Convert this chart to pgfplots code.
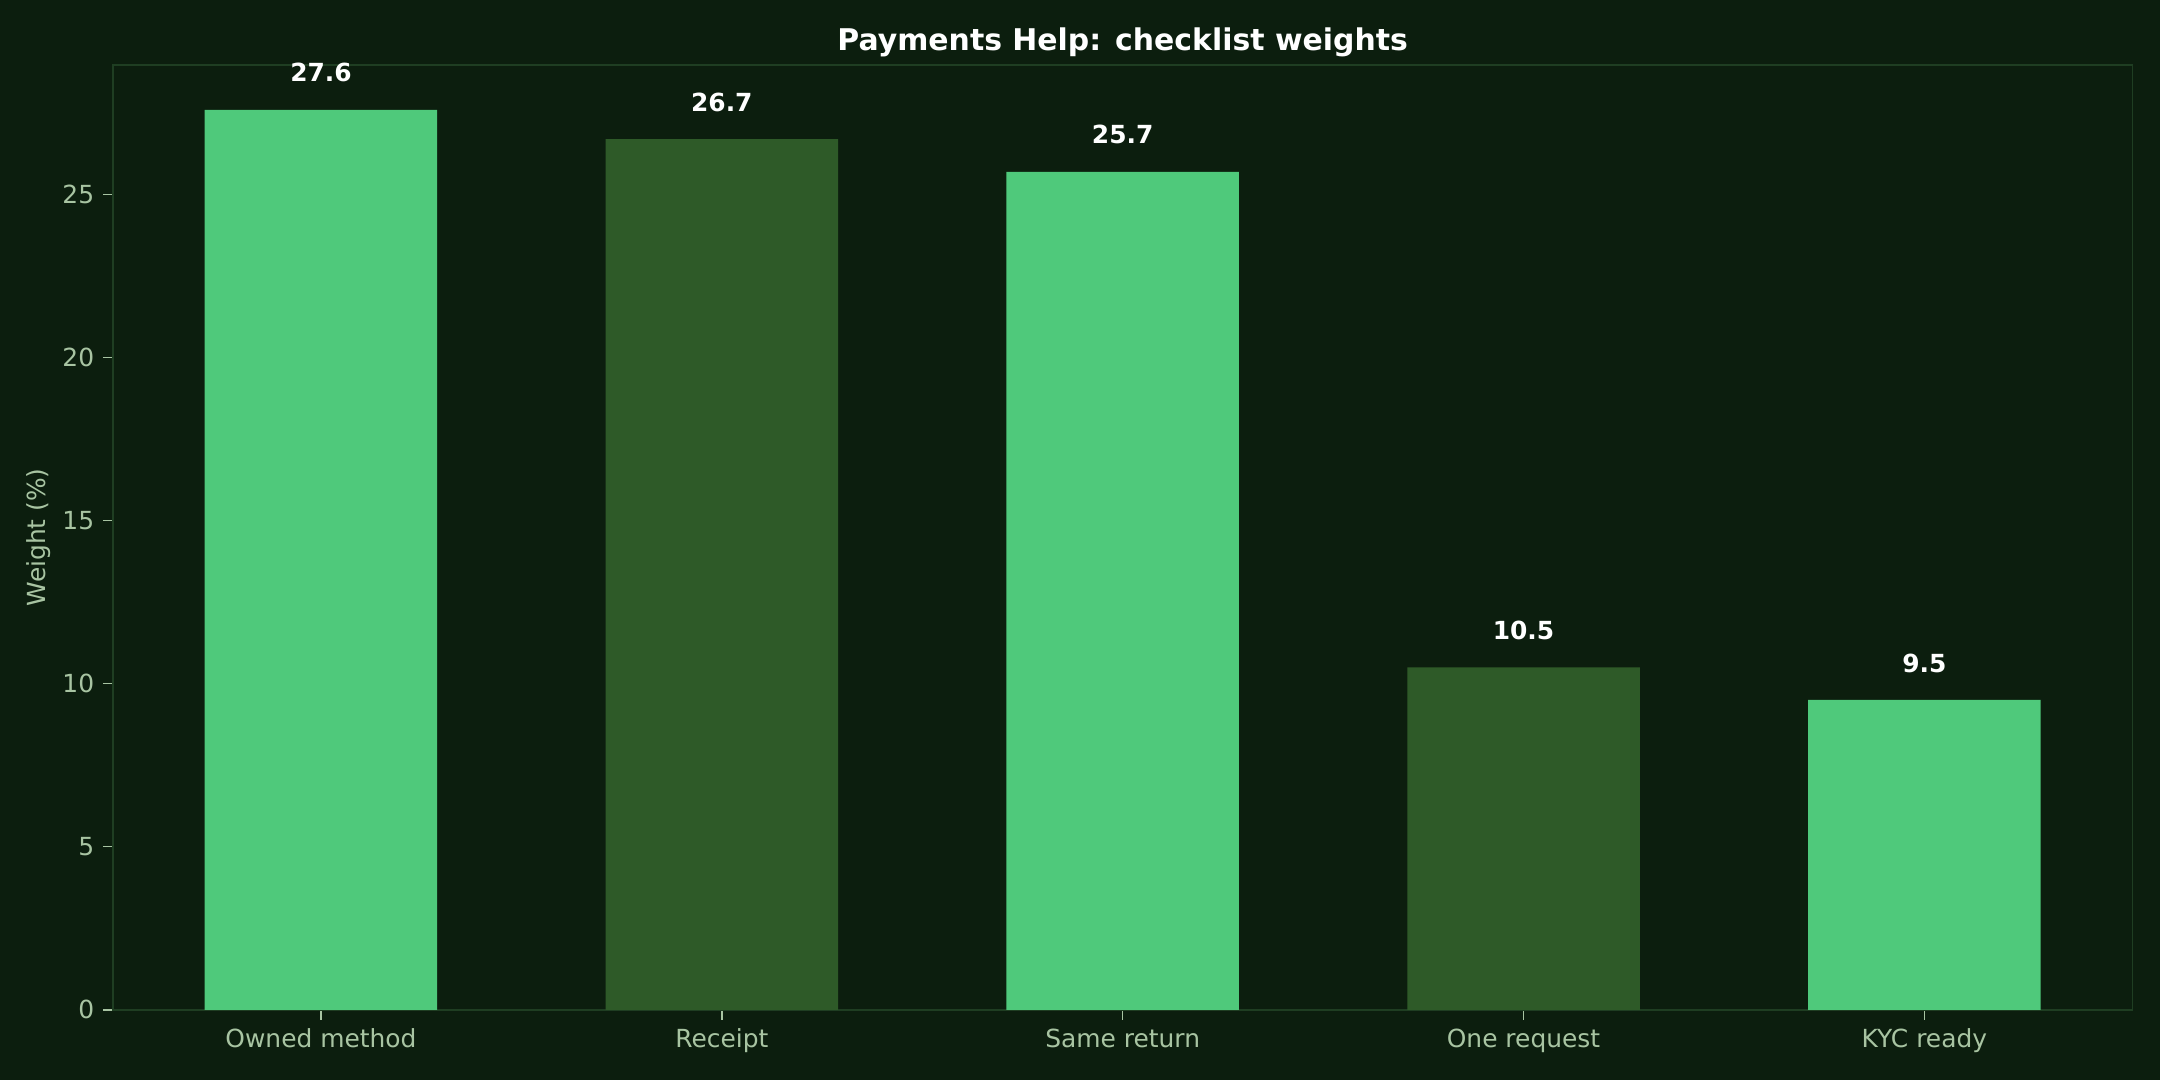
\documentclass[border=0pt]{standalone}
\usepackage{pgfplots}
\pgfplotsset{compat=1.18}
\usepackage{fontspec}
\setmainfont{DejaVu Sans}
\definecolor{bg}{HTML}{0C1E0E}
\definecolor{spine}{HTML}{1F3E22}
\definecolor{bright}{HTML}{4FC97B}
\definecolor{dark}{HTML}{2E5A28}
\definecolor{ticklab}{HTML}{A8C4A2}
\begin{document}
\begin{tikzpicture}
\path[fill=bg] (0,0) rectangle (867.24pt,433.62pt);
\useasboundingbox (0,0) rectangle (867.24pt,433.62pt);
\begin{axis}[
  at={(45.35pt,28.2pt)}, anchor=south west,
  scale only axis, width=810.8pt, height=379.4pt,
  xmin=-0.519, xmax=4.519, ymin=0, ymax=28.98,
  ybar, bar width=0.58, bar shift=0pt,
  xtick={0,1,2,3,4},
  xticklabels={Owned method,Receipt,Same return,One request,KYC ready},
  ytick={0,5,10,15,20,25},
  axis line style={spine, line width=0.6pt},
  tick style={ticklab, line width=0.6pt},
  tick align=outside, major tick length=4pt,
  xtick pos=bottom, ytick pos=left,
  tick label style={font=\fontsize{10}{12}\selectfont, text=ticklab},
  /pgf/number format/assume math mode=true,
  ylabel={Weight (\%)}, ylabel style={font=\fontsize{10}{12}\selectfont, text=ticklab},
  ylabel shift=-2pt,
  title={\textbf{Payments Help: checklist weights}},
  title style={font=\fontsize{12}{14}\selectfont, text=white, yshift=-6.5pt},
  nodes near coords,
  nodes near coords style={font=\fontsize{10}{12}\selectfont\bfseries, text=white, anchor=south, yshift=7.5pt},
  point meta=explicit symbolic,
]
\addplot[fill=bright, draw=none] coordinates {(0,27.6)[27.6] (2,25.7)[25.7] (4,9.5)[9.5]};
\addplot[fill=dark, draw=none] coordinates {(1,26.7)[26.7] (3,10.5)[10.5]};
\end{axis}
\end{tikzpicture}
\end{document}
